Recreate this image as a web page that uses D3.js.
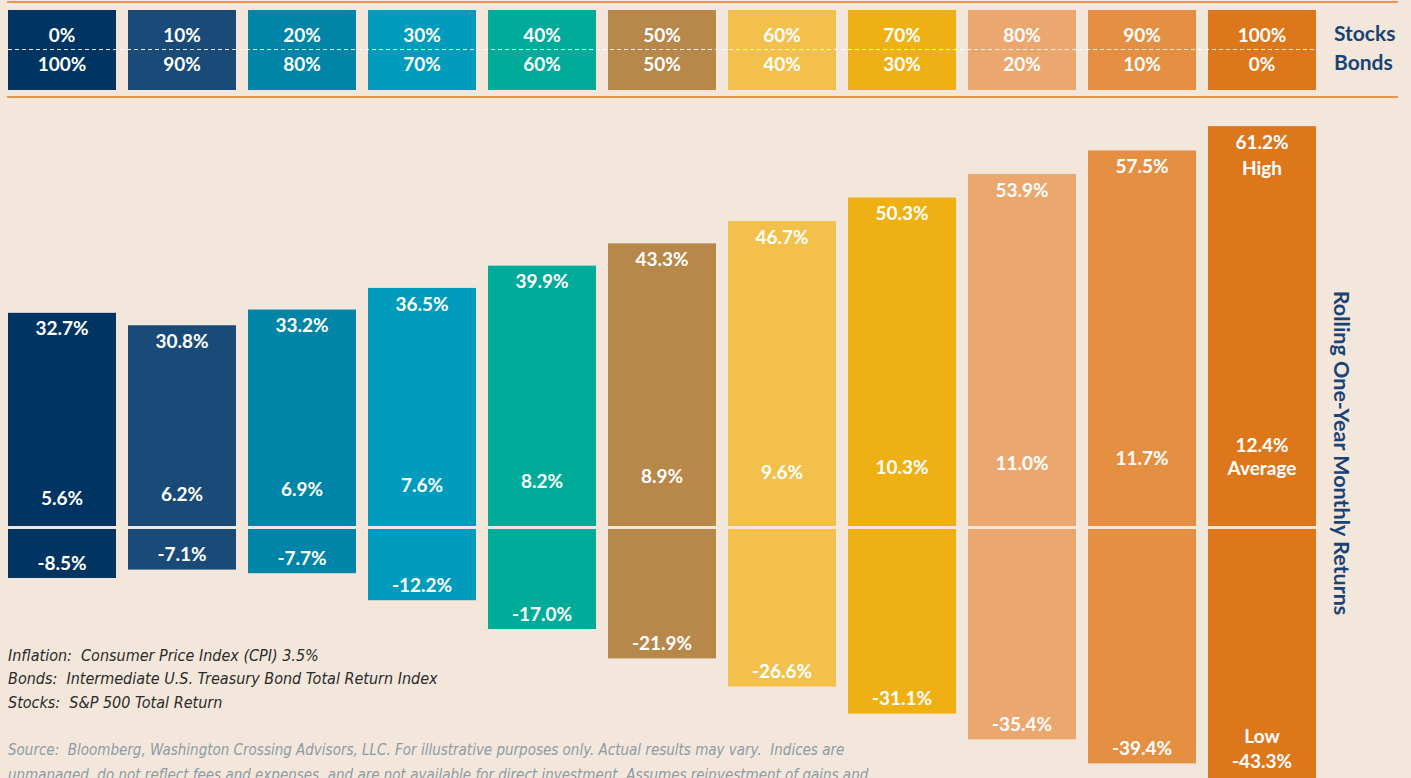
<!DOCTYPE html>
<html lang="en">

<head>
    <meta charset="UTF-8">
    <title>Rolling One-Year Monthly Returns</title>
    <script src="https://d3js.org/d3.v7.min.js"></script>
    <style>
        body {
            margin: 0;
            background-color: #f3e7db;
        }

        svg {
            width: 1411px;
            height: 778px;
            display: block;
        }

        .num {
            font-family: Lato, "Open Sans", sans-serif;
            font-weight: 700;
            font-size: 19px;
            fill: #ffffff;
        }

        .note {
            font-family: "Liberation Sans Narrow", "DejaVu Sans Condensed", sans-serif;
            font-style: italic;
            font-size: 16px;
            white-space: pre;
        }
    </style>
</head>

<body>
    <svg id="chart"></svg>

    <script>
        // data
        var stockMix = ["0%", "10%", "20%", "30%", "40%", "50%", "60%", "70%", "80%", "90%", "100%"];
        var bondMix = ["100%", "90%", "80%", "70%", "60%", "50%", "40%", "30%", "20%", "10%", "0%"];
        var highs = [32.7, 30.8, 33.2, 36.5, 39.9, 43.3, 46.7, 50.3, 53.9, 57.5, 61.2];
        var averages = [5.6, 6.2, 6.9, 7.6, 8.2, 8.9, 9.6, 10.3, 11.0, 11.7, 12.4];
        var lows = [-8.5, -7.1, -7.7, -12.2, -17.0, -21.9, -26.6, -31.1, -35.4, -39.4, -43.3];
        var colors = ["#003462", "#1a4b78", "#0085a8", "#009bbd", "#00ab9a", "#b8874a",
            "#f2c04b", "#efb014", "#eca76e", "#e58f43", "#dd771c"];

        var notes = [
            "Inflation:  Consumer Price Index (CPI) 3.5%",
            "Bonds:  Intermediate U.S. Treasury Bond Total Return Index",
            "Stocks:  S&P 500 Total Return"
        ];
        var sourceLines = [
            "Source:  Bloomberg, Washington Crossing Advisors, LLC. For illustrative purposes only. Actual results may vary.  Indices are",
            "unmanaged, do not reflect fees and expenses, and are not available for direct investment. Assumes reinvestment of gains and"
        ];

        var data = stockMix.map(function (s, i) {
            return { stock: s, bond: bondMix[i], high: highs[i], avg: averages[i], low: lows[i], color: colors[i], i: i };
        });
        var last = data.length - 1;

        var svg = d3.select("#chart");
        var fmt = function (v) { return v.toFixed(1) + "%"; };

        // scales
        var xScale = d3.scaleBand()
            .domain(stockMix)
            .range([8, 1316])
            .paddingInner(0.1)
            .paddingOuter(0);

        // the original uses a slightly tighter step below zero
        var yScale = d3.scaleLinear()
            .domain([-45, 0, 65])
            .range([527 + 45 * 6.0, 527, 527 - 65 * 6.55]);
        var y0 = yScale(0);

        // header rules
        svg.selectAll(".rule")
            .data([2, 97])
            .join("line")
            .attr("x1", 7).attr("x2", 1398)
            .attr("y1", d => d).attr("y2", d => d)
            .style("stroke", "#e07b20")
            .style("stroke-width", 1.6);

        // header boxes
        var head = svg.append("g");
        head.selectAll("rect")
            .data(data)
            .join("rect")
            .attr("x", d => xScale(d.stock))
            .attr("y", 10)
            .attr("width", xScale.bandwidth())
            .attr("height", 80)
            .style("fill", d => d.color);

        head.append("line")
            .attr("x1", 8).attr("x2", 1316)
            .attr("y1", 49.5).attr("y2", 49.5)
            .style("stroke", "#ffffff")
            .style("stroke-width", 1)
            .style("stroke-dasharray", "4,3")
            .style("opacity", 0.9);

        head.selectAll(".stock")
            .data(data)
            .join("text")
            .attr("class", "num stock")
            .attr("x", d => xScale(d.stock) + xScale.bandwidth() / 2)
            .attr("y", 35)
            .attr("dy", "0.35em")
            .attr("text-anchor", "middle")
            .text(d => d.stock);

        head.selectAll(".bond")
            .data(data)
            .join("text")
            .attr("class", "num bond")
            .attr("x", d => xScale(d.stock) + xScale.bandwidth() / 2)
            .attr("y", 64)
            .attr("dy", "0.35em")
            .attr("text-anchor", "middle")
            .text(d => d.bond);

        head.selectAll(".key")
            .data(["Stocks", "Bonds"])
            .join("text")
            .attr("x", 1334)
            .attr("y", (d, i) => i == 0 ? 34 : 63)
            .attr("dy", "0.35em")
            .style("font-family", "Lato, sans-serif")
            .style("font-weight", 700)
            .style("font-size", "21px")
            .style("fill", "#1a4375")
            .text(d => d);

        // bars
        var bars = svg.append("g");
        bars.selectAll(".up")
            .data(data)
            .join("rect")
            .attr("class", "up")
            .attr("x", d => xScale(d.stock))
            .attr("y", d => yScale(d.high))
            .attr("width", xScale.bandwidth())
            .attr("height", d => y0 - 1 - yScale(d.high))
            .style("fill", d => d.color);

        bars.selectAll(".down")
            .data(data)
            .join("rect")
            .attr("class", "down")
            .attr("x", d => xScale(d.stock))
            .attr("y", y0 + 2)
            .attr("width", xScale.bandwidth())
            .attr("height", d => yScale(d.low) - y0 - 2)
            .style("fill", d => d.color);

        // bar labels
        var cx = d => xScale(d.stock) + xScale.bandwidth() / 2;

        bars.selectAll(".hi")
            .data(data)
            .join("text")
            .attr("class", "num hi")
            .attr("x", cx)
            .attr("y", d => yScale(d.high) + 16)
            .attr("dy", "0.35em")
            .attr("text-anchor", "middle")
            .text(d => fmt(d.high));

        bars.selectAll(".av")
            .data(data)
            .join("text")
            .attr("class", "num av")
            .attr("x", cx)
            .attr("y", d => d.i == last ? yScale(d.avg) : yScale(d.avg) + 8)
            .attr("dy", "0.35em")
            .attr("text-anchor", "middle")
            .text(d => fmt(d.avg));

        bars.selectAll(".lo")
            .data(data)
            .join("text")
            .attr("class", "num lo")
            .attr("x", cx)
            .attr("y", d => d.i == last ? yScale(d.low) - 25 : yScale(d.low) - 15)
            .attr("dy", "0.35em")
            .attr("text-anchor", "middle")
            .text(d => fmt(d.low));

        // words on the 100% stock bar
        var lastBar = data[last];
        var words = [
            { t: "High", y: yScale(lastBar.high) + 42 },
            { t: "Average", y: yScale(lastBar.avg) + 23 },
            { t: "Low", y: yScale(lastBar.low) - 50 }
        ];
        bars.selectAll(".word")
            .data(words)
            .join("text")
            .attr("class", "num word")
            .attr("x", cx(lastBar))
            .attr("y", d => d.y)
            .attr("dy", "0.35em")
            .attr("text-anchor", "middle")
            .text(d => d.t);

        // side title
        svg.append("text")
            .attr("transform", "translate(1342," + 453 + ") rotate(90)")
            .attr("text-anchor", "middle")
            .attr("dy", "0.35em")
            .style("font-family", "Lato, sans-serif")
            .style("font-weight", 700)
            .style("font-size", "21.5px")
            .style("fill", "#1a4375")
            .text("Rolling One-Year Monthly Returns");

        // notes
        svg.selectAll(".notes")
            .data(notes)
            .join("text")
            .attr("class", "note notes")
            .attr("x", 8)
            .attr("y", (d, i) => 655 + i * 23.5)
            .attr("dy", "0.35em")
            .style("fill", "#2b2b2b")
            .text(d => d);

        svg.selectAll(".src")
            .data(sourceLines)
            .join("text")
            .attr("class", "note src")
            .attr("x", 8)
            .attr("y", (d, i) => 750 + i * 25)
            .attr("dy", "0.35em")
            .style("font-size", "15px")
            .style("fill", "#8d9ba3")
            .text(d => d);
    </script>
</body>

</html>
